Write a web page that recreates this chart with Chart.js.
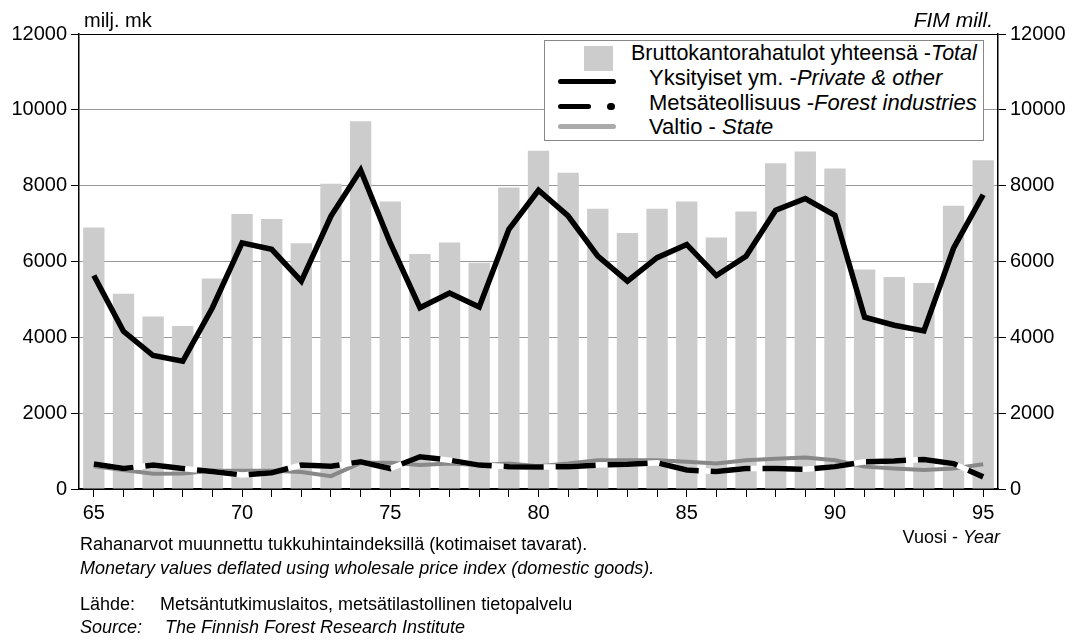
<!DOCTYPE html>
<html>
<head>
<meta charset="utf-8">
<script src="https://cdn.jsdelivr.net/npm/chart.js@4.4.1/dist/chart.umd.min.js"></script>
<style>
  html, body { margin: 0; padding: 0; background: #fff; }
  #wrap { position: relative; width: 1074px; height: 644px; font-family: "Liberation Sans", Arial, sans-serif; color: #000; }
  #wrap canvas { position: absolute; left: 0; top: 0; }
  .t { position: absolute; white-space: nowrap; line-height: 20px; }
  .i { font-style: italic; }
  #legend { position: absolute; left: 544px; top: 40px; width: 440px; height: 101px; border: 1px solid #888; background: #fff; box-sizing: border-box; }
  #legend .row { position: absolute; font-size: 22px; line-height: 22px; white-space: nowrap; }
  .sym { position: absolute; }
</style>
</head>
<body>
<div id="wrap">
  <canvas id="chart" width="1074" height="644"></canvas>

  <div class="t" style="left:84px; top:10px; font-size:20px;">milj. mk</div>
  <div class="t i" style="right:81px; top:10px; font-size:21px;">FIM mill.</div>

  <div id="legend">
    <div class="sym" style="left:39px; top:5px; width:29px; height:25px; background:#cccccc;"></div>
    <div class="row" style="left:86px; top:1px; font-size:21.5px;">Bruttokantorahatulot yhteensä -<span class="i">Total</span></div>

    <div class="sym" style="left:13px; top:38px; width:58px; height:5px; background:#000; border-radius:3px;"></div>
    <div class="row" style="left:104px; top:26px;">Yksityiset ym. -<span class="i">Private &amp; other</span></div>

    <div class="sym" style="left:13px; top:63px; width:33px; height:5px; background:#000; border-radius:3px;"></div>
    <div class="sym" style="left:62px; top:62px; width:8px; height:7px; background:#000; border-radius:4px;"></div>
    <div class="row" style="left:104px; top:51px;">Metsäteollisuus -<span class="i">Forest industries</span></div>

    <div class="sym" style="left:13px; top:83px; width:58px; height:5px; background:#aaaaaa; border-radius:3px;"></div>
    <div class="row" style="left:104px; top:75px;">Valtio - <span class="i">State</span></div>
  </div>

  <div class="t" style="right:74px; top:527px; font-size:18px;">Vuosi - <span class="i">Year</span></div>

  <div class="t" style="left:80px; top:534px; font-size:18px;">Rahanarvot muunnettu tukkuhintaindeksillä (kotimaiset tavarat).</div>
  <div class="t i" style="left:80px; top:558px; font-size:18px;">Monetary values deflated using wholesale price index (domestic goods).</div>
  <div class="t" style="left:80px; top:594px; font-size:18px;">Lähde:</div>
  <div class="t" style="left:160px; top:594px; font-size:18px;">Metsäntutkimuslaitos, metsätilastollinen tietopalvelu</div>
  <div class="t i" style="left:80px; top:617px; font-size:18px;">Source:</div>
  <div class="t i" style="left:165px; top:617px; font-size:18px;">The Finnish Forest Research Institute</div>
</div>

<script>
// vuodet 1965-1995, milj. mk (reaalisina)
const years = [65,66,67,68,69,70,71,72,73,74,75,76,77,78,79,80,81,82,83,84,85,86,87,88,89,90,91,92,93,94,95];
const total   = [6900,5150,4550,4300,5550,7250,7120,6480,8050,9700,7580,6200,6500,5970,7950,8920,8340,7390,6750,7390,7580,6630,7320,8590,8900,8450,5790,5590,5430,7470,8670];
const private_ = [5630,4160,3520,3370,4780,6490,6320,5480,7200,8410,6490,4780,5170,4800,6850,7880,7200,6140,5480,6100,6450,5630,6140,7350,7660,7220,4530,4320,4170,6350,7760];
const forest  = [660,540,630,540,460,370,430,630,600,720,540,850,760,630,590,580,590,630,650,690,500,460,540,540,520,590,720,740,780,670,320];
const state   = [600,500,400,410,480,480,480,450,340,690,690,630,670,630,670,600,670,760,760,760,720,670,760,800,830,760,590,540,500,540,650];
const yTicks = [0,2000,4000,6000,8000,10000,12000];

const FONT = { family: '"Liberation Sans", Arial, sans-serif', size: 20 };

new Chart(document.getElementById('chart'), {
  type: 'bar',
  data: {
    labels: years.map(String),
    datasets: [
      { type: 'line', label: 'Yksityiset ym.', data: private_, borderColor: '#000', borderWidth: 5.5,
        pointRadius: 0, tension: 0, order: 0 },
      { type: 'line', label: 'Metsäteollisuus', data: forest, borderColor: '#000', borderWidth: 5.5,
        borderDash: [40, 12], pointRadius: 0, tension: 0, order: 1 },
      { type: 'line', label: 'white', data: forest, borderColor: '#fff', borderWidth: 5.5,
        pointRadius: 0, tension: 0, order: 2 },
      { type: 'line', label: 'Valtio', data: state, borderColor: '#888888', borderWidth: 4,
        pointRadius: 0, tension: 0, order: 3 },
      { type: 'bar', label: 'Bruttokantorahatulot yhteensä', data: total, backgroundColor: '#cccccc',
        barPercentage: 0.72, categoryPercentage: 1.0, order: 4 }
    ]
  },
  options: {
    responsive: false, animation: false,
    layout: { padding: { top: 34, left: 0, right: 0, bottom: 0 } },
    plugins: { legend: { display: false }, tooltip: { enabled: false } },
    scales: {
      x: {
        offset: true,
        afterFit: s => { s.height = 155; },
        grid: { drawOnChartArea: false, offset: false, tickLength: 8, tickColor: '#000' },
        border: { color: '#000', width: 1.5 },
        ticks: { autoSkip: false, maxRotation: 0, padding: 4, color: '#000', font: FONT,
          callback: (v, i) => years[i] % 5 === 0 ? String(years[i]) : '' }
      },
      y: {
        position: 'left', min: 0, max: 12000,
        afterFit: s => { s.width = 79; },
        afterBuildTicks: s => { s.ticks = yTicks.map(v => ({ value: v })); },
        grid: { color: c => (c.tick && (c.tick.value === 12000 || c.tick.value === 0)) ? '#000' : '#999999',
          tickLength: 8, tickColor: '#000' },
        border: { color: '#000', width: 1.5 },
        ticks: { padding: 4, color: '#000', font: FONT, callback: v => String(v) }
      },
      y2: {
        position: 'right', min: 0, max: 12000,
        afterFit: s => { s.width = 76; },
        afterBuildTicks: s => { s.ticks = yTicks.map(v => ({ value: v })); },
        grid: { drawOnChartArea: false, tickLength: 8, tickColor: '#000' },
        border: { color: '#000', width: 1.5 },
        ticks: { padding: 4, color: '#000', font: FONT, callback: v => String(v) }
      }
    }
  }
});
</script>
</body>
</html>
